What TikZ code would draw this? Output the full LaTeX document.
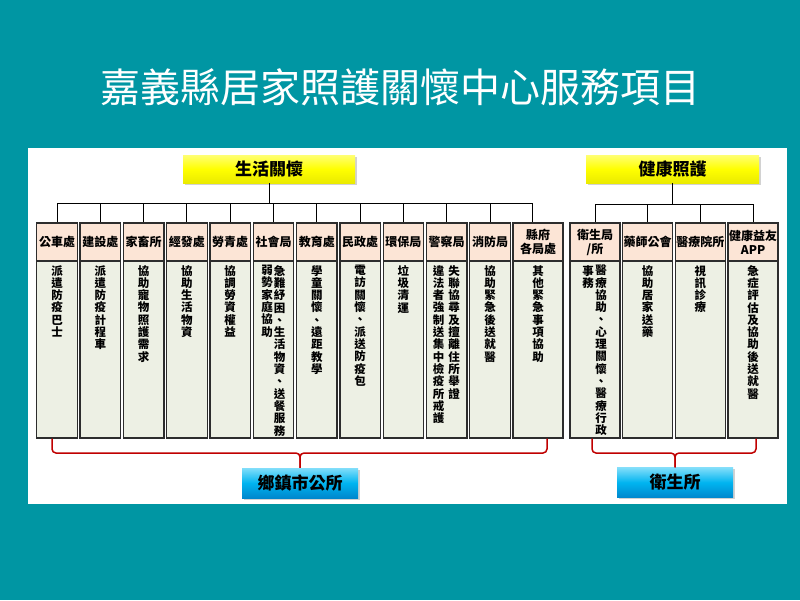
\documentclass[tikz,border=0pt]{standalone}
\usepackage{fontspec}
\newfontfamily\cjk{Noto Sans CJK TC}
\usetikzlibrary{shadows,calc}
\definecolor{bg}{RGB}{0,150,163}
\definecolor{peach}{RGB}{252,229,214}
\definecolor{sage}{RGB}{237,240,228}
\definecolor{brk}{RGB}{192,0,0}
\definecolor{edge}{RGB}{45,45,45}
\definecolor{bluetop}{RGB}{130,222,250}
\definecolor{bluemid}{RGB}{0,180,240}
\definecolor{bluebot}{RGB}{0,135,205}
\begin{document}
\begin{tikzpicture}[x=1pt,y=-1pt,
  hdr/.style={draw=edge,line width=1.3pt,fill=peach,minimum width=#1,minimum height=38pt,inner sep=0pt,align=center,font=\cjk\bfseries\fontsize{12}{14}\selectfont},
  cnt/.style={draw=edge,line width=1.3pt,fill=sage,minimum width=#1,minimum height=177pt,inner sep=0pt},
  vtx/.style={inner sep=0pt,anchor=north,align=center,font=\cjk\bfseries\fontsize{11.5}{12.3}\selectfont},
  ybox/.style={minimum width=172pt,minimum height=28pt,inner sep=0pt,top color=yellow!55!white,bottom color=yellow!92!black,middle color=yellow,drop shadow={opacity=0.35,shadow xshift=1.5pt,shadow yshift=-1.5pt},font=\cjk\bfseries\fontsize{17}{20}\selectfont},
  bbox/.style={minimum width=116pt,minimum height=30pt,inner sep=0pt,top color=bluetop,bottom color=bluebot,middle color=bluemid,drop shadow={opacity=0.35,shadow xshift=1.5pt,shadow yshift=-1.5pt},font=\cjk\bfseries\fontsize{17}{20}\selectfont},
  tree/.style={draw=black,line width=1pt},
  brace/.style={draw=brk,line width=1.5pt,rounded corners=4pt}]
% background and panel
\fill[bg] (0,0) rectangle (800,600);
\fill[white] (28,148) rectangle (787,504);
% title
\node[text=white,font=\cjk\fontsize{40}{46}\selectfont,inner sep=0pt] (title) at (400,87) {嘉義縣居家照護關懷中心服務項目};
% category boxes
\node[ybox] (live) at (269,169) {生活關懷};
\node[ybox,minimum width=173pt] (health) at (672.5,169) {健康照護};
\coordinate (busL) at (0,203);
\coordinate (busR) at (0,204);
% left columns
\node[hdr=40.5pt] (h1) at (57,242) {公車處};
\node[hdr=40.5pt] (h2) at (100.3,242) {建設處};
\node[hdr=40.5pt] (h3) at (143.6,242) {家畜所};
\node[hdr=40.5pt] (h4) at (186.9,242) {經發處};
\node[hdr=40.5pt] (h5) at (230.2,242) {勞青處};
\node[hdr=40.5pt] (h6) at (273.5,242) {社會局};
\node[hdr=40.5pt] (h7) at (316.8,242) {教育處};
\node[hdr=40.5pt] (h8) at (360.1,242) {民政處};
\node[hdr=40.5pt] (h9) at (403.4,242) {環保局};
\node[hdr=40.5pt] (h10) at (446.7,242) {警察局};
\node[hdr=40.5pt] (h11) at (490,242) {消防局};
\node[hdr=50pt] (h12) at (538,242) {縣府\\各局處};
\node[cnt=40.5pt] (c1) at (57,349.5) {};
\node[cnt=40.5pt] (c2) at (100.3,349.5) {};
\node[cnt=40.5pt] (c3) at (143.6,349.5) {};
\node[cnt=40.5pt] (c4) at (186.9,349.5) {};
\node[cnt=40.5pt] (c5) at (230.2,349.5) {};
\node[cnt=40.5pt] (c6) at (273.5,349.5) {};
\node[cnt=40.5pt] (c7) at (316.8,349.5) {};
\node[cnt=40.5pt] (c8) at (360.1,349.5) {};
\node[cnt=40.5pt] (c9) at (403.4,349.5) {};
\node[cnt=40.5pt] (c10) at (446.7,349.5) {};
\node[cnt=40.5pt] (c11) at (490,349.5) {};
\node[cnt=50pt] (c12) at (538,349.5) {};
% right columns
\node[hdr=50pt] (h13) at (595,242) {衛生局\\/所};
\node[hdr=50pt] (h14) at (647.7,242) {藥師公會};
\node[hdr=50pt] (h15) at (700.4,242) {醫療院所};
\node[hdr=50pt] (h16) at (753.1,242) {健康益友\\APP};
\node[cnt=50pt] (c13) at (595,349.5) {};
\node[cnt=50pt] (c14) at (647.7,349.5) {};
\node[cnt=50pt] (c15) at (700.4,349.5) {};
\node[cnt=50pt] (c16) at (753.1,349.5) {};
% vertical texts
\node[vtx] (t1) at (57,265) {派\\遣\\防\\疫\\巴\\士};
\node[vtx] (t2) at (100.3,265) {派\\遣\\防\\疫\\計\\程\\車};
\node[vtx] (t3) at (143.6,265) {協\\助\\寵\\物\\照\\護\\需\\求};
\node[vtx] (t4) at (186.9,265) {協\\助\\生\\活\\物\\資};
\node[vtx] (t5) at (230.2,265) {協\\調\\勞\\資\\權\\益};
\node[vtx] (t6b) at (279.5,265) {急\\難\\紓\\困\\、\\生\\活\\物\\資\\、\\送\\餐\\服\\務};
\node[vtx] (t6a) at (267,265) {弱\\勢\\家\\庭\\協\\助};
\node[vtx] (t7) at (316.8,265) {學\\童\\關\\懷\\、\\遠\\距\\教\\學};
\node[vtx] (t8) at (360.1,265) {電\\訪\\關\\懷\\、\\派\\送\\防\\疫\\包};
\node[vtx] (t9) at (403.4,265) {垃\\圾\\清\\運};
\node[vtx] (t10b) at (454,265) {失\\聯\\協\\尋\\及\\擅\\離\\住\\所\\舉\\證};
\node[vtx] (t10a) at (438.5,265) {違\\法\\者\\強\\制\\送\\集\\中\\檢\\疫\\所\\戒\\護};
\node[vtx] (t11) at (490,265) {協\\助\\緊\\急\\後\\送\\就\\醫};
\node[vtx] (t12) at (538,265) {其\\他\\緊\\急\\事\\項\\協\\助};
\node[vtx] (t13b) at (601,265) {醫\\療\\協\\助\\、\\心\\理\\關\\懷\\、\\醫\\療\\行\\政};
\node[vtx] (t13a) at (588,265) {事\\務};
\node[vtx] (t14) at (647.7,265) {協\\助\\居\\家\\送\\藥};
\node[vtx] (t15) at (700.4,265) {視\\訊\\診\\療};
\node[vtx] (t16) at (753.1,265) {急\\症\\評\\估\\及\\協\\助\\後\\送\\就\\醫};
% tree connectors
\coordinate (d12) at ($(h12.north)+(-6,0)$);
\foreach \h in {h1,h2,h3,h4,h5,h6,h7,h8,h9,h10,h11,d12}
  \draw[tree] (live.south) -- (live.south |- busL) -| (\h.north);
\foreach \h in {h13,h14,h15,h16}
  \draw[tree] (health.south) -- (health.south |- busR) -| (\h.north);
% bottom labels
\node[bbox] (town) at (300,483) {鄉鎮市公所};
\node[bbox] (clinic) at (675,482.5) {衛生所};
\coordinate (kL) at (52,438.5);
\coordinate (kR) at (547,438.5);
\coordinate (kM) at (300,453);
\coordinate (mL) at (592,438.5);
\coordinate (mR) at (756,438.5);
\coordinate (mM) at (675,453);
\draw[brace] (kL) |- (kM) -- (town.north);
\draw[brace] (kR) |- (kM) -- (town.north);
\draw[brace] (mL) |- (mM) -- (clinic.north);
\draw[brace] (mR) |- (mM) -- (clinic.north);
\end{tikzpicture}
\end{document}
